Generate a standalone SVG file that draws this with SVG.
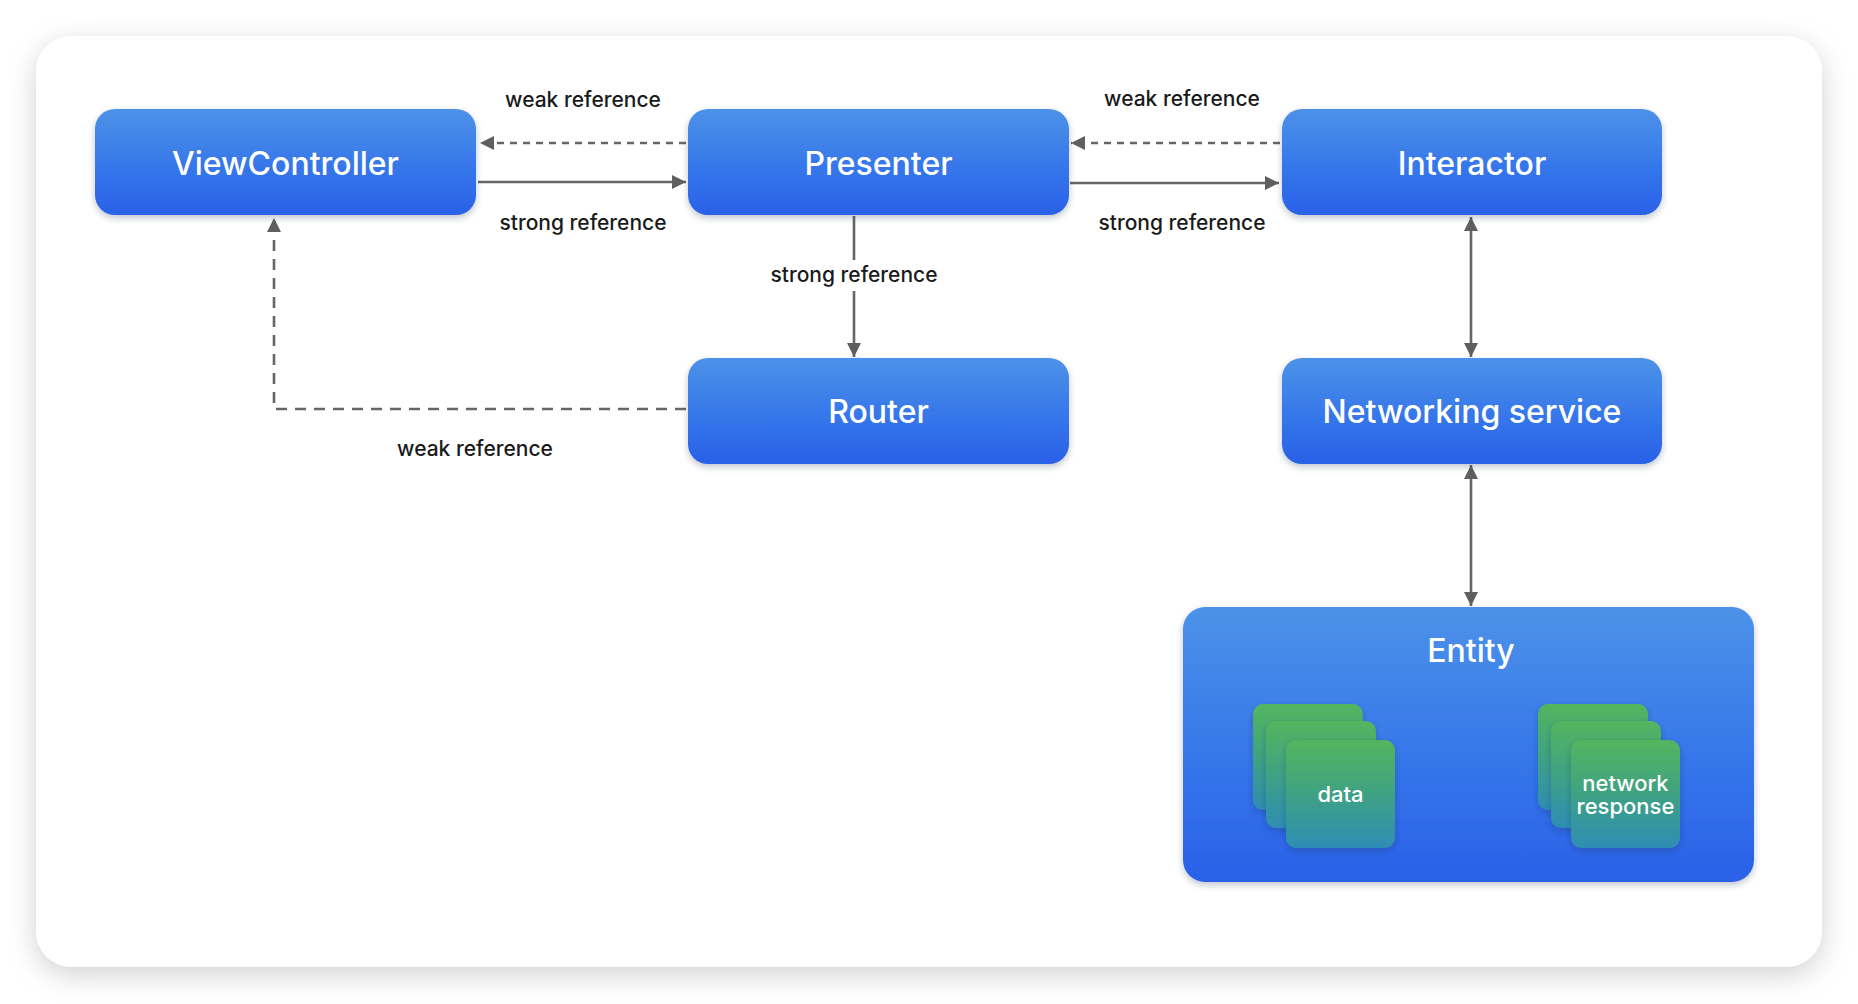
<svg xmlns="http://www.w3.org/2000/svg" width="1858" height="1004" viewBox="0 0 1858 1004">
<style>
.node-text{font-family:Inter,"Noto Sans","Liberation Sans",sans-serif;font-size:32px;font-weight:500;fill:#ffffff;text-anchor:middle}
.lbl{font-family:Inter,"Noto Sans","Liberation Sans",sans-serif;font-size:21px;font-weight:500;fill:#1a1a1a;text-anchor:middle}
.small{font-family:Inter,"Noto Sans","Liberation Sans",sans-serif;font-size:22px;font-weight:500;fill:#ffffff;text-anchor:middle}
.solid{fill:none;stroke:#666666;stroke-width:2.6}
.dot{fill:none;stroke:#666666;stroke-width:2.6;stroke-dasharray:7 6}
.dash{fill:none;stroke:#666666;stroke-width:2.6;stroke-dasharray:11 8}
</style>
<defs>
<linearGradient id="blue" x1="0" y1="0" x2="0" y2="1">
<stop offset="0" stop-color="#4c92e8"/>
<stop offset="0.6" stop-color="#3474ea"/>
<stop offset="1" stop-color="#2a61e8"/>
</linearGradient>
<linearGradient id="green" x1="0" y1="0" x2="0" y2="1">
<stop offset="0" stop-color="#54b55e"/>
<stop offset="0.5" stop-color="#3fa283"/>
<stop offset="1" stop-color="#2e8db5"/>
</linearGradient>
<filter id="cardShadow" x="-10%" y="-10%" width="120%" height="125%">
<feDropShadow dx="0" dy="8" stdDeviation="14" flood-color="#000" flood-opacity="0.18"/>
</filter>
<filter id="boxShadow" x="-10%" y="-10%" width="120%" height="130%">
<feDropShadow dx="0" dy="3" stdDeviation="3" flood-color="#1a2a50" flood-opacity="0.28"/>
</filter>
<marker id="arr" viewBox="0 0 14 14" refX="14" refY="7" markerWidth="14" markerHeight="14" markerUnits="userSpaceOnUse" orient="auto-start-reverse">
<path d="M0,0 L14,7 L0,14 Z" fill="#5f5f5f"/>
</marker>
</defs>
<rect x="0" y="0" width="1858" height="1004" fill="#ffffff"/>
<rect id="card" x="36" y="36" width="1786" height="931" rx="36" fill="#ffffff" filter="url(#cardShadow)"/>

<g id="connectors">
<path class="solid" d="M478,182 H686" marker-end="url(#arr)"/>
<path class="dot" d="M686,143 H480" marker-end="url(#arr)"/>
<path class="solid" d="M1070,183 H1279" marker-end="url(#arr)"/>
<path class="dot" d="M1280,143 H1071" marker-end="url(#arr)"/>
<path class="solid" d="M854,216 V260"/>
<path class="solid" d="M854,291 V357" marker-end="url(#arr)"/>
<path class="dash" d="M686,409 H274 V218" marker-end="url(#arr)"/>
<path class="solid" d="M1471,217 V357" marker-start="url(#arr)" marker-end="url(#arr)"/>
<path class="solid" d="M1471,465 V606" marker-start="url(#arr)" marker-end="url(#arr)"/>
<text class="lbl" x="583" y="107">weak reference</text>
<text class="lbl" x="583" y="230">strong reference</text>
<text class="lbl" x="1182" y="106">weak reference</text>
<text class="lbl" x="1182" y="230">strong reference</text>
<text class="lbl" x="854" y="282">strong reference</text>
<text class="lbl" x="475" y="456">weak reference</text>
</g>

<g id="viewcontroller">
<rect x="95" y="109" width="381" height="106" rx="20" fill="url(#blue)" filter="url(#boxShadow)"/>
<text class="node-text" x="285.5" y="175">ViewController</text>
</g>
<g id="presenter">
<rect x="688" y="109" width="381" height="106" rx="20" fill="url(#blue)" filter="url(#boxShadow)"/>
<text class="node-text" x="878.5" y="175">Presenter</text>
</g>
<g id="interactor">
<rect x="1282" y="109" width="380" height="106" rx="20" fill="url(#blue)" filter="url(#boxShadow)"/>
<text class="node-text" x="1472" y="175">Interactor</text>
</g>
<g id="router">
<rect x="688" y="358" width="381" height="106" rx="20" fill="url(#blue)" filter="url(#boxShadow)"/>
<text class="node-text" x="878.5" y="423">Router</text>
</g>
<g id="networking">
<rect x="1282" y="358" width="380" height="106" rx="20" fill="url(#blue)" filter="url(#boxShadow)"/>
<text class="node-text" x="1472" y="423">Networking service</text>
</g>
<g id="entity">
<rect x="1183" y="607" width="571" height="275" rx="22" fill="url(#blue)" filter="url(#boxShadow)"/>
<text class="node-text" x="1471" y="662">Entity</text>
<g id="data">
<rect x="1253" y="704" width="110" height="106" rx="10" fill="url(#green)" filter="url(#boxShadow)"/>
<rect x="1266" y="721" width="110" height="107" rx="10" fill="url(#green)" filter="url(#boxShadow)"/>
<rect x="1286" y="740" width="109" height="108" rx="10" fill="url(#green)" filter="url(#boxShadow)"/>
<text class="small" x="1340.5" y="802">data</text>
</g>
<g id="network-response">
<rect x="1538" y="704" width="110" height="106" rx="10" fill="url(#green)" filter="url(#boxShadow)"/>
<rect x="1551" y="721" width="110" height="107" rx="10" fill="url(#green)" filter="url(#boxShadow)"/>
<rect x="1571" y="740" width="109" height="108" rx="10" fill="url(#green)" filter="url(#boxShadow)"/>
<text class="small" x="1625.5" y="791">network</text>
<text class="small" x="1625.5" y="814">response</text>
</g>
</g>
</svg>
